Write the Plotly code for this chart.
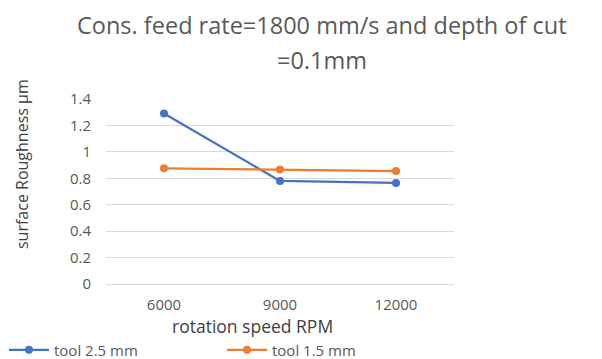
import plotly.graph_objects as go

categories = ["6000", "9000", "12000"]
tool_25 = [1.29, 0.78, 0.765]
tool_15 = [0.875, 0.866, 0.855]
y_ticks = [0, 0.2, 0.4, 0.6, 0.8, 1, 1.2, 1.4]
y_tick_text = ["0", "0.2", "0.4", "0.6", "0.8", "1", "1.2", "1.4"]

FONT = "Open Sans"
PH = 185  # plot height px
PW = 348
fig = go.Figure()
fig.add_trace(go.Scatter(x=categories, y=tool_25, mode="lines+markers", name="tool 2.5 mm", legend="legend",
                         line=dict(color="#4472C4", width=2.25), marker=dict(size=8, color="#4472C4")))
fig.add_trace(go.Scatter(x=categories, y=tool_15, mode="lines+markers", name="tool 1.5 mm", legend="legend2",
                         line=dict(color="#ED7D31", width=2.25), marker=dict(size=8, color="#ED7D31")))

fig.add_annotation(text="Cons. feed rate=1800 mm/s and depth of cut", xref="paper", yref="paper",
                   x=(322 - 106) / PW, y=(284 - 25) / PH, xanchor="center", yanchor="middle", showarrow=False,
                   font=dict(family=FONT, size=23.5, color="#595959"))
fig.add_annotation(text="=0.1mm", xref="paper", yref="paper",
                   x=(322 - 106) / PW, y=(284 - 60) / PH, xanchor="center", yanchor="middle", showarrow=False,
                   font=dict(family=FONT, size=23.5, color="#595959"))
fig.add_annotation(text="rotation speed RPM", xref="paper", yref="paper", x=(252 - 106) / PW, y=-42 / PH,
                   xanchor="center", yanchor="middle", showarrow=False,
                   font=dict(family=FONT, size=17.5, color="#404040"))
fig.add_annotation(text="surface Roughness µm", xref="paper", yref="paper", x=(22 - 106) / PW, y=(284 - 164) / PH,
                   xanchor="center", yanchor="middle", showarrow=False, textangle=-90,
                   font=dict(family=FONT, size=16, color="#404040"))

leg_common = dict(orientation="h", xref="container", yref="paper", y=-(350 - 284) / PH,
                  xanchor="left", yanchor="middle", font=dict(size=15, color="#595959"), itemwidth=40,
                  bgcolor="rgba(0,0,0,0)")
fig.update_layout(
    width=602, height=359,
    margin=dict(l=106, r=148, t=99, b=75, autoexpand=False),
    paper_bgcolor="white", plot_bgcolor="white",
    font=dict(family=FONT, color="#595959", size=15),
    showlegend=True,
    legend=dict(x=4 / 602, **leg_common),
    legend2=dict(x=222 / 602, **leg_common),
    xaxis=dict(type="category", range=[-0.5, 2.5], showgrid=False, showline=False, ticks="", ticklabelstandoff=10,
               automargin=False),
    yaxis=dict(range=[0, 1.4], tickvals=y_ticks, ticktext=y_tick_text, showgrid=True,
               gridcolor="#d9d9d9", gridwidth=1, zeroline=True, zerolinecolor="#d9d9d9", zerolinewidth=1,
               ticks="", ticklabelstandoff=14, automargin=False),
)
fig.write_html("out.html")
